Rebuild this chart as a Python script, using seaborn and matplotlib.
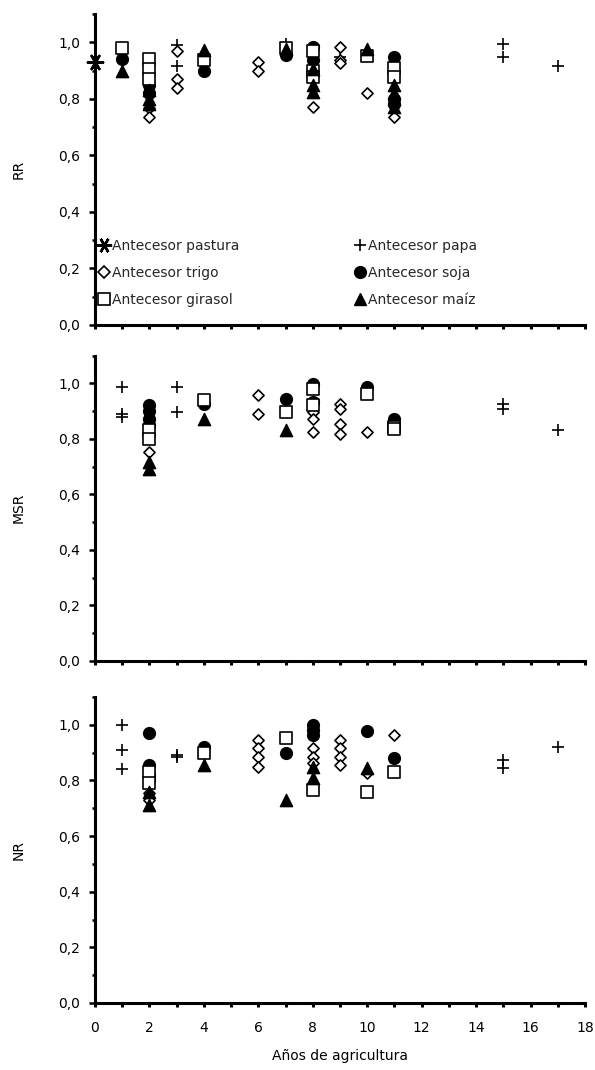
import matplotlib
matplotlib.use("Agg")
import matplotlib.pyplot as plt
from matplotlib.lines import Line2D
from matplotlib.ticker import MultipleLocator, FuncFormatter
import pandas as pd
import seaborn as sns

# ---------------- data (años de agricultura, valor) ----------------
CATEGORIES = ["Antecesor pastura", "Antecesor papa", "Antecesor trigo",
              "Antecesor soja", "Antecesor girasol", "Antecesor maíz"]
PANEL_LABELS = ["RR", "MSR", "NR"]
X_TICKS = [0, 2, 4, 6, 8, 10, 12, 14, 16, 18]
Y_TICKS = [0.0, 0.2, 0.4, 0.6, 0.8, 1.0]

# RR
rr_pastura = [(0, 0.93)]
rr_papa = [(3, 0.99), (3, 0.915), (7, 0.995), (9, 0.948), (15, 0.995), (15, 0.948), (17, 0.915)]
rr_trigo = [(2, 0.766), (2, 0.736), (3, 0.968), (3, 0.87), (3, 0.84), (6, 0.93), (6, 0.90),
            (8, 0.77), (9, 0.983), (9, 0.936), (9, 0.925), (10, 0.82), (11, 0.736)]
rr_soja = [(1, 0.94), (2, 0.85), (2, 0.82), (4, 0.90), (7, 0.954), (8, 0.983), (8, 0.936),
           (11, 0.948), (11, 0.80), (11, 0.78)]
rr_girasol = [(1, 0.98), (2, 0.942), (2, 0.907), (2, 0.87), (4, 0.936), (7, 0.98), (8, 0.97),
              (8, 0.90), (8, 0.877), (10, 0.95), (11, 0.91), (11, 0.877)]
rr_maiz = [(1, 0.90), (2, 0.83), (2, 0.80), (2, 0.78), (4, 0.972), (7, 0.975), (8, 0.907),
           (8, 0.848), (8, 0.824), (10, 0.977), (11, 0.85), (11, 0.82), (11, 0.80), (11, 0.77)]

# MSR
msr_pastura = []
msr_papa = [(1, 0.987), (1, 0.89), (1, 0.877), (3, 0.987), (3, 0.897), (15, 0.927), (15, 0.909), (17, 0.83)]
msr_trigo = [(2, 0.753), (6, 0.957), (6, 0.89), (8, 0.897), (8, 0.873), (8, 0.825), (9, 0.927),
             (9, 0.909), (9, 0.855), (9, 0.819), (10, 0.825), (11, 0.857)]
msr_soja = [(2, 0.92), (2, 0.90), (2, 0.87), (2, 0.85), (4, 0.927), (7, 0.945), (8, 0.999),
            (8, 0.933), (10, 0.987), (11, 0.873)]
msr_girasol = [(2, 0.83), (2, 0.80), (4, 0.94), (7, 0.897), (8, 0.98), (8, 0.92), (10, 0.963),
               (11, 0.843), (11, 0.835)]
msr_maiz = [(2, 0.717), (2, 0.693), (4, 0.873), (7, 0.83)]

# NR
nr_pastura = []
nr_papa = [(1, 1.0), (1, 0.91), (1, 0.842), (3, 0.89), (3, 0.884), (15, 0.872), (15, 0.844), (17, 0.922)]
nr_trigo = [(2, 0.754), (2, 0.73), (6, 0.946), (6, 0.916), (6, 0.886), (6, 0.85), (8, 0.916),
            (8, 0.886), (8, 0.862), (9, 0.946), (9, 0.916), (9, 0.886), (9, 0.857), (10, 0.826), (11, 0.962)]
nr_soja = [(2, 0.97), (2, 0.856), (2, 0.82), (2, 0.80), (4, 0.922), (7, 0.898), (8, 1.0),
           (8, 0.982), (8, 0.964), (10, 0.976), (11, 0.88)]
nr_girasol = [(2, 0.83), (2, 0.79), (4, 0.90), (7, 0.952), (8, 0.766), (10, 0.76), (11, 0.832)]
nr_maiz = [(2, 0.712), (2, 0.76), (4, 0.856), (7, 0.73), (8, 0.85), (8, 0.808), (10, 0.844)]

PANELS = [
    [rr_pastura, rr_papa, rr_trigo, rr_soja, rr_girasol, rr_maiz],
    [msr_pastura, msr_papa, msr_trigo, msr_soja, msr_girasol, msr_maiz],
    [nr_pastura, nr_papa, nr_trigo, nr_soja, nr_girasol, nr_maiz],
]

# ---------------- styles ----------------
STYLES = {
    "Antecesor pastura": dict(marker=(6, 2, 90), s=120, color="black", linewidth=1.8, filled=False),
    "Antecesor papa": dict(marker="+", s=70, color="black", linewidth=1.2, filled=False),
    "Antecesor trigo": dict(marker="D", s=32, color="white", linewidth=1.2, filled=True),
    "Antecesor soja": dict(marker="o", s=72, color="black", linewidth=1.0, filled=True),
    "Antecesor girasol": dict(marker="s", s=66, color="white", linewidth=1.2, filled=True),
    "Antecesor maíz": dict(marker="^", s=78, color="black", linewidth=1.0, filled=True),
}

sns.set_theme(style="white")
plt.rcParams["font.family"] = ["DejaVu Sans"]
FS = 10

fig = plt.figure(figsize=(5.95, 10.7), dpi=100)
W, H = 595.0, 1070.0
left_px, right_px = 95, 585
# (pixel y of value 1.1, pixel y of value 0)
panel_px = [(14, 325), (355.5, 661), (697, 1003)]

fmt = FuncFormatter(lambda v, _: f"{v:.1f}".replace(".", ","))

axes = []
for i, (top_px, bot_px) in enumerate(panel_px):
    ax = fig.add_axes([left_px / W, 1 - bot_px / H, (right_px - left_px) / W, (bot_px - top_px) / H])
    axes.append(ax)
    for j, cat in enumerate(CATEGORIES):
        pts = PANELS[i][j]
        if not pts:
            continue
        df = pd.DataFrame(pts, columns=["años", "valor"])
        st = STYLES[cat]
        kw = dict(marker=st["marker"], s=st["s"], linewidth=st["linewidth"], clip_on=False, zorder=3 + j)
        if st["filled"]:
            kw.update(color=st["color"], edgecolor="black")
        else:
            kw.update(color="black")
        sns.scatterplot(data=df, x="años", y="valor", ax=ax, legend=False, **kw)

    ax.set_xlim(0, 18)
    ax.set_ylim(0, 1.1)
    ax.set_xticks(X_TICKS)
    ax.xaxis.set_minor_locator(MultipleLocator(1))
    ax.set_yticks(Y_TICKS)
    ax.yaxis.set_minor_locator(MultipleLocator(0.1))
    ax.yaxis.set_major_formatter(fmt)
    for sp in ["top", "right"]:
        ax.spines[sp].set_visible(False)
    for sp in ["left", "bottom"]:
        ax.spines[sp].set_linewidth(2.2)
        ax.spines[sp].set_color("black")
    ax.tick_params(axis="both", which="both", direction="out", colors="black",
                   left=True, bottom=True, labelsize=FS)
    ax.tick_params(axis="y", which="major", length=4.5, width=1.8, pad=6)
    ax.tick_params(axis="y", which="minor", length=2.5, width=1.8)
    ax.tick_params(axis="x", which="both", length=3, width=2.2, pad=10)
    ax.set_ylabel(PANEL_LABELS[i], fontsize=FS, color="black")
    ax.yaxis.set_label_coords(-0.142, 0.5)
    if i < 2:
        ax.tick_params(axis="x", labelbottom=False)
        ax.set_xlabel("")
    else:
        ax.set_xlabel("Años de agricultura", fontsize=FS, color="black", labelpad=10)
    ax.grid(False)
    ax.set_facecolor("white")

# legend in top panel, two columns
def handle(cat):
    st = STYLES[cat]
    ms = st["s"] ** 0.5
    if st["filled"]:
        return Line2D([], [], linestyle="none", marker=st["marker"], markersize=ms,
                      markerfacecolor=st["color"], markeredgecolor="black",
                      markeredgewidth=st["linewidth"])
    return Line2D([], [], linestyle="none", marker=st["marker"], markersize=ms,
                  color="black", markeredgewidth=st["linewidth"])

ax0 = axes[0]
col1 = [CATEGORIES[0], CATEGORIES[2], CATEGORIES[4]]
col2 = [CATEGORIES[1], CATEGORIES[3], CATEGORIES[5]]
leg_kw = dict(frameon=False, fontsize=FS, handlelength=0.8, handletextpad=0.15,
              labelspacing=0.95, borderpad=0, borderaxespad=0, loc="upper left")
leg1 = ax0.legend([handle(c) for c in col1], col1, bbox_to_anchor=(0.008, 0.278), **leg_kw)
ax0.add_artist(leg1)
leg2 = ax0.legend([handle(c) for c in col2], col2, bbox_to_anchor=(0.53, 0.278), **leg_kw)

fig.savefig("out.png", dpi=100, facecolor="white")
